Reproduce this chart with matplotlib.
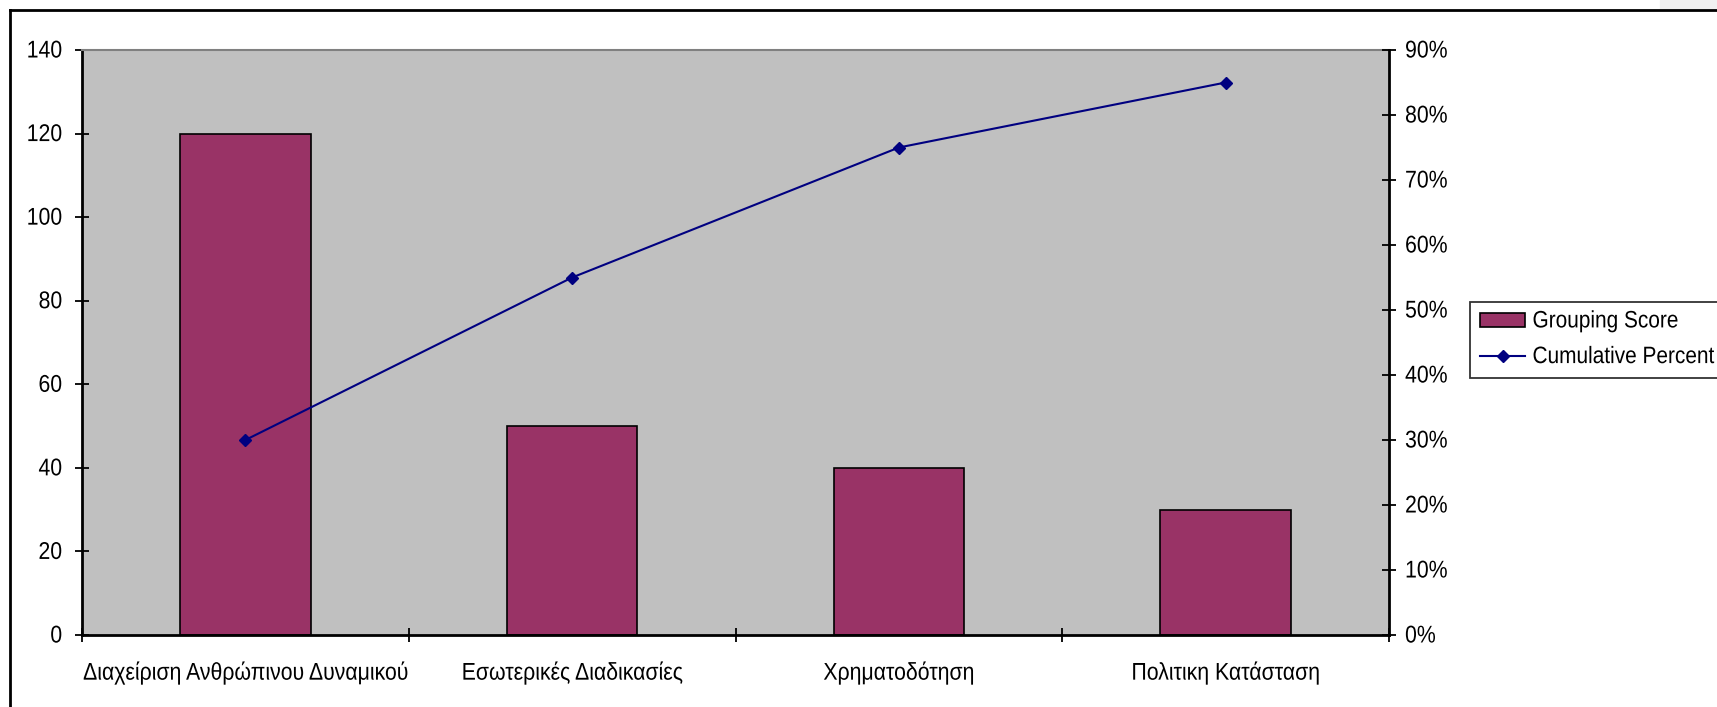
import matplotlib.pyplot as plt
from matplotlib.lines import Line2D
from matplotlib.patches import Rectangle
from matplotlib.patheffects import AbstractPathEffect
from matplotlib.ticker import FixedLocator, PercentFormatter
from matplotlib.transforms import Affine2D

plt.rcParams["font.family"] = ["Liberation Sans", "DejaVu Sans"]

# data
categories = ["Διαχείριση Ανθρώπινου Δυναμικού", "Εσωτερικές Διαδικασίες",
              "Χρηματοδότηση", "Πολιτικη Κατάσταση"]
grouping_score = [120, 50, 40, 30]
cumulative_percent = [30, 55, 75, 85]
left_ticks = [0, 20, 40, 60, 80, 100, 120, 140]
right_ticks = [0, 10, 20, 30, 40, 50, 60, 70, 80, 90]

FS = 15.3


class Stretch(AbstractPathEffect):
    """Draws text a bit taller than normal, like the narrow Excel font."""

    def __init__(self, sy):
        super().__init__()
        self.sy = sy

    def draw_path(self, renderer, gc, tpath, affine, rgbFace=None):
        x0, y0 = affine.transform((0, 0))
        t = affine + Affine2D().translate(-x0, -y0).scale(1, self.sy).translate(x0, y0)
        renderer.draw_path(gc, tpath, t, rgbFace)


tall = [Stretch(1.14)]

W, H = 1717, 707
fig = plt.figure(figsize=(W / 100, H / 100), dpi=100)
ax = fig.add_axes([82 / W, 1 - 635 / H, (1389 - 82) / W, (635 - 50) / H])
ax.set_facecolor("#c0c0c0")

x = list(range(len(categories)))
ax.bar(x, grouping_score, width=0.4, color="#993366", edgecolor="black",
       linewidth=1.2, label="Grouping Score", zorder=2)
ax.set_xlim(-0.5, len(categories) - 0.5)
ax.set_ylim(0, 140)
ax.set_yticks(left_ticks)

# category labels in the middle, tick marks on the boundaries
ax.xaxis.set_major_locator(FixedLocator([i - 0.5 for i in range(len(categories) + 1)]))
ax.xaxis.set_major_formatter(plt.NullFormatter())
ax.xaxis.set_minor_locator(FixedLocator(x))
ax.set_xticklabels(categories, minor=True)
ax.tick_params(axis="x", which="major", direction="inout", length=9.5, width=1.3)
ax.tick_params(axis="x", which="minor", length=0, pad=21, labelsize=FS)
ax.tick_params(axis="y", direction="inout", length=9.5, width=1.3, pad=9.5, labelsize=FS)

for side in ["left", "bottom"]:
    ax.spines[side].set_linewidth(2)
    ax.spines[side].set_color("black")
ax.spines["top"].set_color("#808080")
ax.spines["top"].set_linewidth(1.5)
ax.spines["right"].set_visible(False)

ax2 = ax.twinx()
ax2.plot(x, cumulative_percent, color="#000080", linewidth=1.5, marker="D",
         markersize=6.5, label="Cumulative Percent", zorder=3)
ax2.set_ylim(0, 90)
ax2.set_yticks(right_ticks)
ax2.yaxis.set_major_formatter(PercentFormatter(decimals=0))
ax2.tick_params(axis="y", direction="inout", length=9.5, width=1.3, pad=6.8, labelsize=FS)
ax2.spines["right"].set_linewidth(2)
ax2.spines["right"].set_color("black")
for side in ["left", "bottom", "top"]:
    ax2.spines[side].set_visible(False)

for lab in ax.get_xticklabels(minor=True) + ax.get_yticklabels() + ax2.get_yticklabels():
    lab.set_path_effects(tall)

h1, l1 = ax.get_legend_handles_labels()
h2, l2 = ax2.get_legend_handles_labels()
leg = fig.legend(h1 + h2, l1 + l2, loc="upper left",
                 bbox_to_anchor=(1470 / W, 1 - 302 / H), fontsize=15.0,
                 frameon=True, fancybox=False, edgecolor="black",
                 borderpad=0.5, labelspacing=0.8, handlelength=2.15,
                 handletextpad=0.35, borderaxespad=0)
leg.get_frame().set_linewidth(1.3)
for t in leg.get_texts():
    t.set_path_effects(tall)

# outer chart frame (top and left edges visible)
fig.add_artist(Rectangle((1660 / W, 1 - 10 / H), 57 / W, 10 / H,
                         transform=fig.transFigure, color="#f0f0f0", zorder=0))
fig.add_artist(Line2D([10 / W, 1], [1 - 10 / H, 1 - 10 / H], color="black", linewidth=2))
fig.add_artist(Line2D([10 / W, 10 / W], [0, 1 - 10 / H], color="black", linewidth=2))

fig.savefig("out.png", dpi=100)
